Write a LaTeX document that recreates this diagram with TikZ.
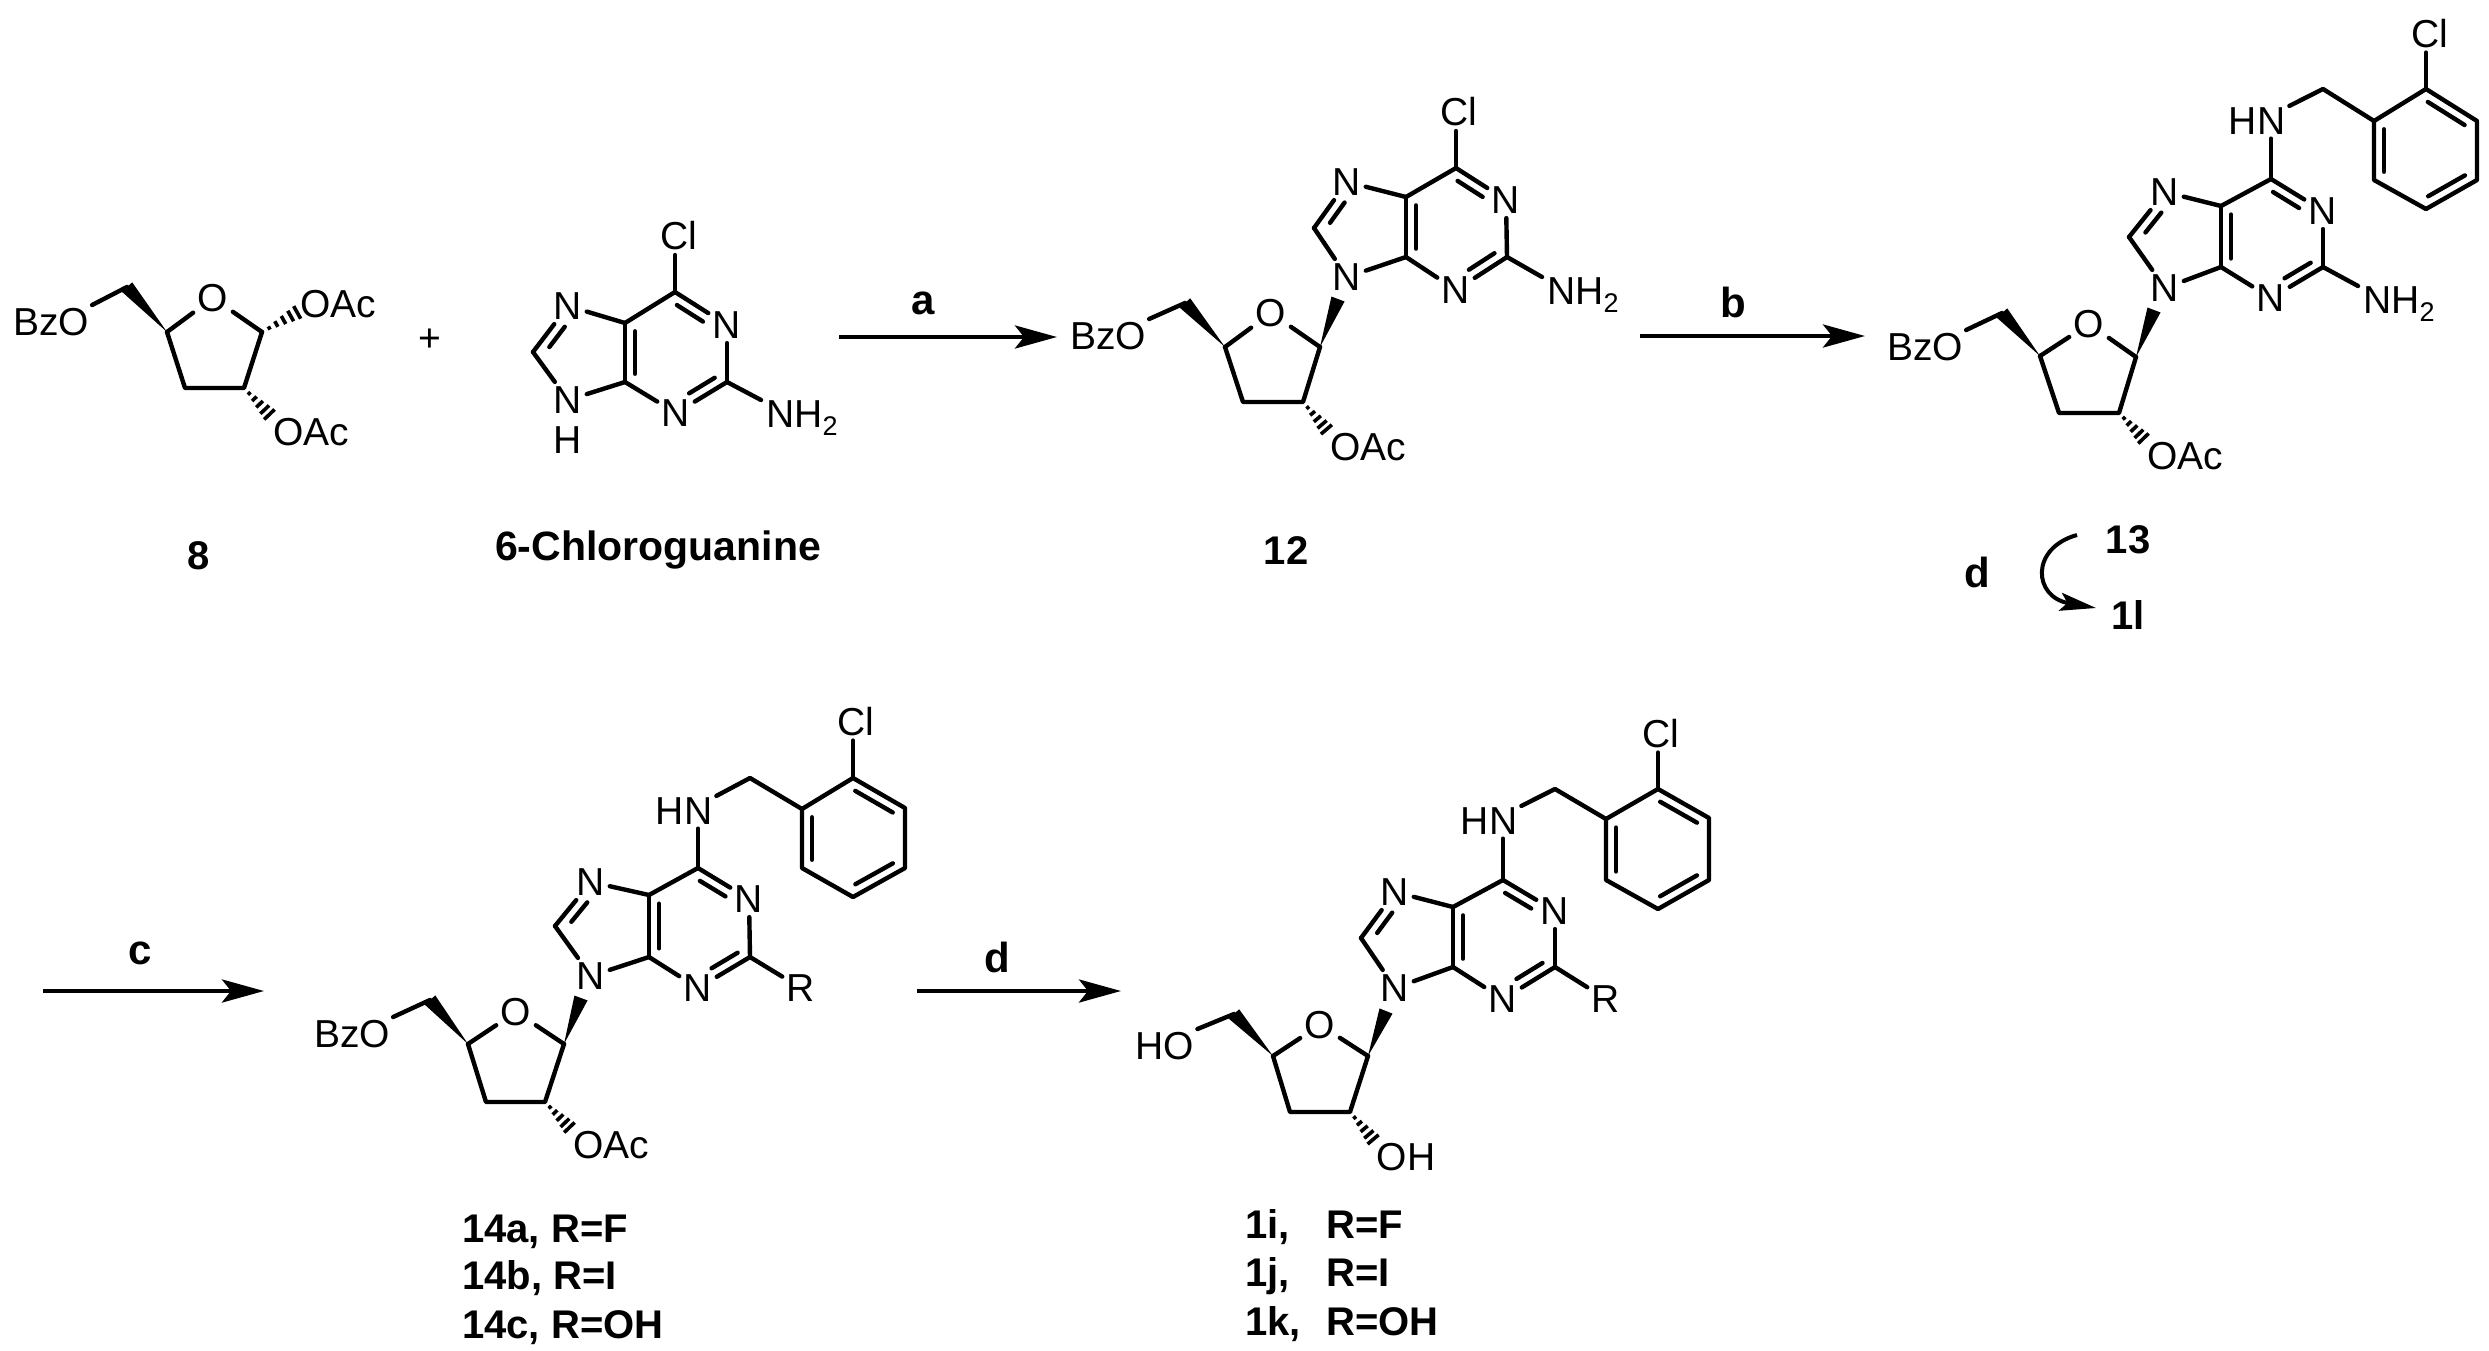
\documentclass[tikz,border=0pt]{standalone}
\usepackage{fontspec}
\setmainfont{Liberation Sans}
\usetikzlibrary{calc,arrows.meta}
\tikzset{
  bond/.style={line width=4.4pt,line cap=round,line join=round},
  atom/.style={font=\fontsize{39}{39}\selectfont,inner sep=4.5pt,text=black},
  lab/.style={font=\fontsize{40}{40}\selectfont\bfseries,inner sep=0pt,text=black},
  rlab/.style={font=\fontsize{42}{42}\selectfont\bfseries,inner sep=0pt,text=black},
  plain/.style={font=\fontsize{39}{39}\selectfont,inner sep=0pt},
  rarrow/.style={line width=4.6pt,-{Stealth[length=42pt,width=23pt,inset=9pt]}},
  carrow/.style={line width=4pt,-{Stealth[length=36pt,width=18pt,inset=7pt]}},
}
\newcommand\dbl[5]{\draw[bond] ($(#1)!#3!(#2)!#5!90:(#2)$) -- ($(#1)!#4!(#2)!#5!90:(#2)$);}
\newcommand\wdg[3]{\fill (#1) -- ($(#2)!#3!90:(#1)$) -- ($(#2)!#3!-90:(#1)$) -- cycle;}
\newcommand\hsh[2]{\foreach \f/\w in {.2/1.8pt,.4/3.2pt,.6/4.6pt,.8/6pt,.98/7.2pt}{\draw[line width=3.6pt] ($(#1)!\f!(#2)!\w!90:(#2)$) -- ($(#1)!\f!(#2)!\w!-90:(#2)$);}}
\newcommand\purine[1]{%
  \draw[bond] (#1c6) -- (#1n1);
  \draw[bond] (#1n1) -- (#1c2);
  \draw[bond] (#1c2) -- (#1n3);
  \draw[bond] (#1n3) -- (#1c4);
  \draw[bond] (#1c4) -- (#1c5);
  \draw[bond] (#1c5) -- (#1c6);
  \draw[bond] (#1c5) -- (#1n7);
  \draw[bond] (#1n7) -- (#1c8);
  \draw[bond] (#1c8) -- (#1n9);
  \draw[bond] (#1n9) -- (#1c4);
  \dbl{#1c6}{#1n1}{.14}{.64}{-10pt}
  \dbl{#1c2}{#1n3}{.14}{.64}{-10pt}
  \dbl{#1c4}{#1c5}{.14}{.86}{-10pt}
  \dbl{#1c8}{#1n7}{.24}{.68}{-10pt}
}
\newcommand\sugar[1]{%
  \draw[bond] (#1a) -- (#1o);
  \draw[bond] (#1o) -- (#1b);
  \draw[bond] (#1b) -- (#1d) -- (#1e) -- (#1a);
  \wdg{#1a}{#1m}{7pt}
}
\newcommand\aryl[1]{%
  \draw[bond] (#1r1) -- (#1r2) -- (#1r3) -- (#1r4) -- (#1r5) -- (#1r6) -- (#1r1);
  \dbl{#1r2}{#1r3}{.14}{.86}{-10pt}
  \dbl{#1r4}{#1r5}{.14}{.86}{-10pt}
  \dbl{#1r6}{#1r1}{.14}{.86}{-10pt}
  \draw[bond] (#1hn.25) -- (#1y) -- (#1r1);
  \draw[bond] (#1c6) -- (#1c6|-#1hn.south);
  \draw[bond] (#1r2) -- (#1r2|-#1cl.south);
}
\begin{document}
\begin{tikzpicture}[x=1pt,y=-1pt]
\useasboundingbox (0,0) rectangle (2489,1350);

% ---- compound 8
\foreach \n/\x/\y in {ma/167/332,mb/262/332,md/244/388,me/185/388,mm/127/287}
  \coordinate (\n) at (\x,\y);
\node[atom] (mo) at (213,298) {O};
\node[atom,inner sep=3pt] (mbzo) at (51,322) {BzO};
\node[atom,inner sep=3pt] (moaca) at (338,304) {OAc};
\node[atom,inner sep=3pt] (moacb) at (311,432) {OAc};
\sugar{m}
\draw[bond] (mm) -- (mbzo.north east);
\hsh{mb}{$(moaca.west)+(1,8)$}
\hsh{md}{moacb.north west}
\node[plain] (plus) at (430,340) {+};

% ---- 6-chloroguanine
\foreach \n/\x/\y in {gc6/675/292,gc2/727/382,gc4/625/382,gc5/625/323,gc8/533/352}
  \coordinate (\n) at (\x,\y);
\foreach \n/\x/\y in {gn1/727/325,gn3/676/413,gn7/568/306,gn9/568/400}
  \node[atom] (\n) at (\x,\y) {N};
\node[atom,inner sep=0pt] (gh) at (568,440) {H};
\node[atom] (gcl) at (679,236) {Cl};
\node[atom,anchor=base west,inner sep=3pt] (gnh) at (763,427) {NH\raisebox{-8pt}{\fontsize{27}{27}\selectfont 2}};
\purine{g}
\draw[bond] (gc6) -- (gc6|-gcl.south);
\draw[bond] (gc2) -- ($(gnh.north west)+(-2,3)$);

\node[lab] (l8) at (199,556) {8};
\node[lab,font=\fontsize{41}{41}\selectfont\bfseries] (lchg) at (658,550) {6-Chloroguanine};

% ---- arrow a
\coordinate (aa) at (839,337); \coordinate (ab) at (1057,337);
\draw[rarrow] (aa) -- (ab);
\node[rlab] (la) at (923,303) {a};

% ---- compound 12
\foreach \n/\x/\y in {pa/1225/347,pb/1320/347,pd/1303/402,pe/1243/402,pm/1185/303,pw/1338/299,
  pc4/1406/257,pc5/1406/197,pc8/1314/228,pc6/1456/168,pc2/1507/257}
  \coordinate (\n) at (\x,\y);
\foreach \n/\x/\y in {pn1/1506/200,pn3/1456/290,pn7/1347/182,pn9/1347/277}
  \node[atom] (\n) at (\x,\y) {N};
\node[atom] (po) at (1271,313) {O};
\node[atom,inner sep=3pt] (pbzo) at (1108,336) {BzO};
\node[atom,inner sep=3pt] (poac) at (1368,447) {OAc};
\node[atom] (pcl) at (1459,112) {Cl};
\node[atom,anchor=base west,inner sep=3pt] (pnh) at (1544,304) {NH\raisebox{-8pt}{\fontsize{27}{27}\selectfont 2}};
\sugar{p}\purine{p}
\wdg{pb}{pw}{7pt}
\draw[bond] (pm) -- (pbzo.north east);
\hsh{pd}{poac.north west}
\draw[bond] (pc6) -- (pc6|-pcl.south);
\draw[bond] (pc2) -- ($(pnh.north west)+(-2,3)$);
\node[lab] (l12) at (1286,551) {12};

% ---- arrow b
\coordinate (ba) at (1640,336); \coordinate (bb) at (1865,336);
\draw[rarrow] (ba) -- (bb);
\node[rlab] (lb) at (1733,302) {b};

% ---- compound 13
\foreach \n/\x/\y in {qa/2040/356,qb/2136/357,qd/2119/413,qe/2059/413,qm/2002/313,qw/2154/310,
  qc4/2221/267,qc5/2221/206,qc8/2129/237,qc6/2271/179,qc2/2323/267,
  qy/2323/89,qr1/2374/121,qr2/2426/89,qr3/2477/121,qr4/2477/180,qr5/2426/209,qr6/2374/180}
  \coordinate (\n) at (\x,\y);
\foreach \n/\x/\y in {qn1/2323/211,qn3/2271/298,qn7/2165/192,qn9/2165/288}
  \node[atom] (\n) at (\x,\y) {N};
\node[atom] (qo) at (2089,324) {O};
\node[atom,inner sep=3pt] (qbzo) at (1925,347) {BzO};
\node[atom,inner sep=3pt] (qoac) at (2185,456) {OAc};
\node[atom,inner sep=4pt] (qcl) at (2430,34) {Cl};
\node[atom,inner sep=4pt] (qhn) at (2257,121) {HN};
\node[atom,anchor=base west,inner sep=3pt] (qnh) at (2360,313) {NH\raisebox{-8pt}{\fontsize{27}{27}\selectfont 2}};
\sugar{q}\purine{q}\aryl{q}
\wdg{qb}{qw}{7pt}
\draw[bond] (qm) -- (qbzo.north east);
\hsh{qd}{qoac.north west}
\draw[bond] (qc2) -- ($(qnh.north west)+(-2,3)$);

\node[lab] (l13) at (2128,540) {13};
\node[rlab] (ld) at (1977,572) {d};
\node[lab] (l1l) at (2128,615) {1l};
\coordinate (ca) at (2077,535); \coordinate (cb) at (2096,608);
\draw[carrow] (ca) .. controls (2030,548) and (2033,597) .. (cb);

% ---- arrow c
\coordinate (da) at (43,991); \coordinate (db) at (264,991);
\draw[rarrow] (da) -- (db);
\node[rlab] (lc) at (140,953) {c};

% ---- compounds 14
\foreach \n/\x/\y in {ra/468/1044,rb/564/1044,rd/545/1102,re/486/1102,rm/430/1000,rw/581/998,
  rc4/649/957,rc5/649/895,rc8/555/926,rc6/698/868,rc2/750/957,
  ry/750/778,rr1/802/809,rr2/853/778,rr3/905/808,rr4/905/868,rr5/853/897,rr6/802/868}
  \coordinate (\n) at (\x,\y);
\foreach \n/\x/\y in {rn1/749/899,rn3/698/988,rn7/591/882,rn9/591/976}
  \node[atom] (\n) at (\x,\y) {N};
\node[atom] (ro) at (516,1012) {O};
\node[atom] (rr) at (801,988) {R};
\node[atom,inner sep=3pt] (rbzo) at (352,1034) {BzO};
\node[atom,inner sep=3pt] (roac) at (611,1145) {OAc};
\node[atom,inner sep=4pt] (rcl) at (856,722) {Cl};
\node[atom,inner sep=4pt] (rhn) at (684,811) {HN};
\sugar{r}\purine{r}\aryl{r}
\wdg{rb}{rw}{7pt}
\draw[bond] (rm) -- (rbzo.north east);
\hsh{rd}{roac.north west}
\draw[bond] (rc2) -- (rr);
\node[lab,anchor=base west] (l14a) at (462,1242) {14a, R=F};
\node[lab,anchor=base west] (l14b) at (462,1289) {14b, R=I};
\node[lab,anchor=base west] (l14c) at (462,1338) {14c, R=OH};

% ---- arrow d
\coordinate (ea) at (917,991); \coordinate (eb) at (1121,991);
\draw[rarrow] (ea) -- (eb);
\node[rlab] (le) at (997,957) {d};

% ---- compounds 1
\foreach \n/\x/\y in {sa/1273/1056,sb/1368/1056,sd/1350/1112,se/1290/1112,sm/1234/1014,sw/1386/1011,
  sc4/1453/967,sc5/1453/907,sc8/1361/938,sc6/1503/880,sc2/1555/967,
  sy/1555/789,sr1/1606/819,sr2/1658/789,sr3/1709/818,sr4/1709/880,sr5/1658/909,sr6/1606/880}
  \coordinate (\n) at (\x,\y);
\foreach \n/\x/\y in {sn1/1555/911,sn3/1503/999,sn7/1395/892,sn9/1395/988}
  \node[atom] (\n) at (\x,\y) {N};
\node[atom] (so) at (1320,1025) {O};
\node[atom] (sr) at (1606,999) {R};
\node[atom,inner sep=3pt] (sho) at (1165,1046) {HO};
\node[atom,inner sep=3pt] (soh) at (1406,1157) {OH};
\node[atom,inner sep=4pt] (scl) at (1661,734) {Cl};
\node[atom,inner sep=4pt] (shn) at (1489,821) {HN};
\sugar{s}\purine{s}\aryl{s}
\wdg{sb}{sw}{7pt}
\draw[bond] (sm) -- (sho.north east);
\hsh{sd}{soh.north west}
\draw[bond] (sc2) -- (sr);
\node[lab,anchor=base west] (l1i) at (1245,1238) {\makebox[81pt][l]{1i,}R=F};
\node[lab,anchor=base west] (l1j) at (1245,1286) {\makebox[81pt][l]{1j,}R=I};
\node[lab,anchor=base west] (l1k) at (1245,1335) {\makebox[81pt][l]{1k,}R=OH};
\end{tikzpicture}
\end{document}
